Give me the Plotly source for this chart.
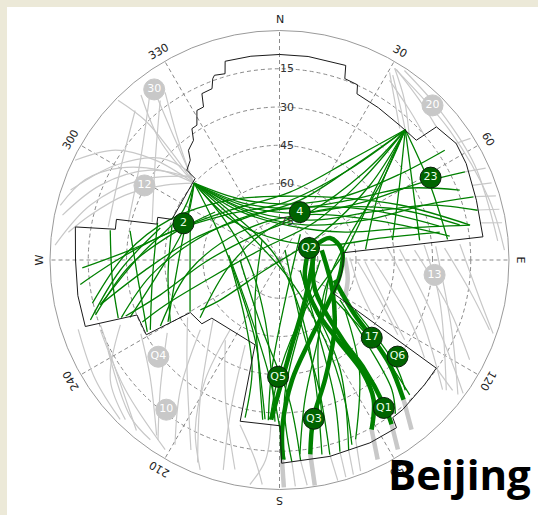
import math
import plotly.graph_objects as go

# ---------------- page / sky-plot geometry ----------------
W, H = 538, 515
CX, CY, R = 279.5, 260.0, 229.5      # centre and horizon radius (px)
R_LABEL = 241.0                       # radius of the azimuth labels (px)

# ---------------- elevation mask (azimuth deg, elevation deg) ----------------
mask_az = [344.7, 352, 0, 8, 18.8, 19.8, 24, 25, 33, 42, 48.8, 49.7, 56.6, 62.7, 73.1,
           83.5, 83.5, 93, 102, 112, 121.8, 124.6, 130.7, 140.5, 144.3, 145.1, 153.7,
           165.6, 179.4, 179.8, 193.7, 196.1, 229.3, 230.6, 239.5, 240.7, 248.9, 251.1,
           260, 270, 279.2, 280.6, 284, 286.3, 289.3, 290.7, 314, 314.1, 318.2, 320.3,
           324.3, 326.3, 328.5, 331.1, 333.6, 335, 338.5, 339.8, 340.6, 343.7, 344.7]
mask_el = [9.2, 9.3, 9.4, 9.4, 9.4, 14.4, 14.8, 18.1, 18.8, 19.2, 18.7, 9.3, 7.0, 7.6, 9.3,
           9.7, 64.9, 65.0, 65.1, 65.2, 65.2, 15.3, 15.0, 14.0, 13.9, 9.8, 10.0,
           10.5, 10.3, 25.0, 24.9, 55.4, 55.0, 50.6, 49.4, 30.1, 30.1, 9.5,
           9.7, 10.0, 8.9, 24.5, 24.1, 39.9, 39.4, 44.9, 44.0, 39.4, 37.5, 34.1,
           32.2, 28.1, 28.0, 23.0, 23.0, 18.0, 17.8, 14.2, 13.2, 13.9, 9.2]

# ---------------- visible tracks, (azimuth, elevation) ----------------
# passes leaving the north-west corner of the mask towards the east
nw_corner_passes = [
    [(312, 45), (327.4, 64.9), (23.6, 69.9), (54.7, 51.4), (61.3, 27.3), (64.6, 9.5)],
    [(312, 45), (328, 68.3), (36, 73), (65, 53), (69.3, 29.1), (72, 10)],
    [(312, 45), (327, 61.5), (10.6, 67.7), (45.7, 54.2), (54.5, 32.1), (56.4, 12.2)],
    [(312, 45), (320, 64.6), (17, 76), (67, 62), (75.7, 39.3), (79.6, 14.2)],
    [(312, 45), (310, 65.7), (1.4, 82.2), (73.5, 69.4), (77.7, 49.7), (80.1, 26.2)],
    [(312, 45), (327.4, 63.5), (16.6, 68.8), (49.6, 53.8), (60.2, 33.4), (68.8, 14.2)],
    [(312, 45), (327.8, 66.9), (37.3, 70.3), (62.1, 49.9), (69.9, 27.3), (75.9, 9.9)],
]
# passes leaving the north-west corner towards the south
nw_corner_south = [
    [(312, 45), (306, 63.5), (260, 78.3), (193.6, 65.9), (183.6, 43), (181.6, 26.6)],
    [(312, 45), (315, 65.2), (318, 87.4), (157.7, 68.9), (163.5, 41), (167.7, 11.9)],
    [(312, 45), (298.5, 61.3), (251.4, 71.6), (197, 57.3), (187.7, 38.7), (185.2, 27.3)],
    [(312, 45), (311, 72), (152.3, 81.2), (150.4, 54), (155, 29.5), (158.6, 12.2)],
    [(312, 45), (294, 47.3), (272, 35.4), (256, 17.6)],
    [(312, 45), (290, 50.6), (265, 43), (249, 27.2)],
]
# passes leaving the north-east corner of the mask towards the west and south
ne_corner_passes = [
    [(44, 19), (38.5, 42.5), (19, 65.2), (320.6, 68.7), (284.6, 55.8), (265.7, 37.2), (256, 17.6)],
    [(44, 19), (44, 42), (32.4, 67.7), (315.6, 76.3), (268.5, 60.9), (253.7, 41.3), (250, 25.8)],
    [(44, 19), (36.7, 47.1), (5.4, 67.3), (309.5, 62.3), (284.3, 45.8), (270.7, 27.6), (263, 11.3)],
    [(44, 19), (35.2, 42.1), (8.8, 63.1), (315.3, 62.5), (287.8, 49.1), (273.8, 31.3), (267.7, 12.6)],
    [(44, 19), (45.9, 45), (43, 69.6), (297.1, 81.4), (255.5, 61.9), (248.5, 41.9), (245.7, 31)],
    [(44, 19), (50.4, 44), (58.3, 71.4), (235.4, 83.1), (236, 61.9), (237.8, 53.3)],
    [(44, 19), (53.8, 43.7), (80.6, 63.3), (153, 68), (179.7, 46.9), (183.4, 27.3)],
    [(44, 19), (53.3, 40.9), (70.5, 60.7), (123.4, 68.7), (156.8, 51.7), (165, 25.2)],
    [(44, 19), (59, 29.4), (82, 34.5)],
    [(44, 19), (58, 34.5), (80, 45)],
    [(44, 19), (63.5, 24), (83, 23.6)],
    [(44, 19), (55, 42), (83, 56)],
]
# west-to-east passes over the top of the sky
west_east_passes = [
    [(257, 14.7), (272.6, 30), (290, 44), (319, 59), (0.5, 65), (44, 56), (65.5, 38), (79.6, 14)],
    [(250, 24), (263, 39), (283, 56), (327, 69), (30, 66), (61, 49.5), (78, 26)],
    [(241, 36.6), (263.6, 54.7), (305, 71), (24.5, 70.7), (66, 51), (82, 22.6)],
    [(234, 51.5), (264, 70.5), (343.5, 77), (39, 65), (65, 42), (79, 18)],
]
# short tracks inside the western sector
west_sector_tracks = [
    [(281, 30.3), (262, 34), (241.5, 31)],
    [(287, 40), (261, 39.5), (241.6, 32.4)],
    [(289.7, 52.8), (263.6, 54.7), (240, 49.5)],
    [(252.4, 12.2), (266.4, 27.5), (285, 41.6)],
    [(312, 45), (275.7, 51), (241, 40)],
    [(253.4, 14.7), (268.1, 31.5), (285, 47.7), (306.7, 58.5)],
    [(280, 22.6), (263.2, 24), (250.2, 22.8)],
    [(288, 45.7), (262.3, 45.9), (240.5, 40.8)],
]
# descending tracks in the southern sectors
south_tracks = [
    [(319, 79.6), (211.5, 71.6), (192, 50), (186, 27)],
    [(39, 77), (172, 74), (184, 47), (184, 27)],
    [(270, 74.5), (194, 62), (176, 35), (174, 11)],
    [(275.5, 70), (208, 65.6), (184.5, 43), (178.4, 11.7)],
    [(90, 74), (164, 61.5), (178, 35), (176.5, 10.8)],
    [(29, 85.5), (161, 65), (163, 36.7), (165.5, 11.2)],
    [(127, 58), (144, 36.7), (157, 13.6)],
    [(126, 63), (132, 37), (136, 16.5)],
    [(143, 70), (151, 41), (160, 10.7)],
    [(123.5, 54.6), (132, 29), (136, 19)],
    [(267.7, 70.6), (209.9, 62.9), (194, 45.6), (192.3, 26.7)],
    [(101, 69.8), (150, 58.3), (169.7, 34.3), (174, 13.4)],
    [(116, 81), (153, 55), (158.4, 31.1), (162.5, 11.2)],
    [(123.5, 61.6), (133.8, 42), (139.1, 22.7), (143, 14.5)],
]
# QZSS figure-of-eight tracks (drawn heavy)
qzss_tracks = [
    [(67, 74), (66.5, 68.4), (81, 65.2), (104, 65.6), (135, 64), (159, 56.5), (174, 42.7), (179, 24.7), (179, 11.7)],
    [(68, 77.5), (128, 77.3), (144, 64.4), (144, 51.5), (143.5, 35), (146, 24), (151.5, 14.3)],
    [(81.5, 76.7), (130, 71.8), (141.6, 50), (142, 37), (144.3, 19.2), (145.7, 12)],
    [(110, 67), (126, 53.5), (130, 42.7), (133.5, 30.4), (138.4, 16.7)],
    [(77, 73), (120, 66), (142, 55), (159, 40), (168, 26.3), (171, 12.8)],
    [(74, 75.6), (147.5, 71.4), (173, 54.5), (183, 27.3)],
]

# ---------------- masked tracks ----------------
masked_northwest = [
    [(312, 45), (307, 31.4), (300, 17.8), (292.4, 7.5), (284, 1.4)],
    [(312, 45), (308.8, 27.5), (303.8, 12.6), (296, 0.8)],
    [(312, 45), (303.2, 36.4), (292.8, 24.4), (283.4, 13.8), (277.5, 6.5)],
    [(312, 45), (315.1, 29.3), (316.1, 14.1), (314.7, 0.9)],
    [(281.7, 3.1), (292.7, 13.9), (304.8, 28.3), (313, 43)],
    [(288.5, 3.6), (300, 15.7), (310.5, 28.5), (314.5, 40.9)],
    [(273.8, 1.8), (286.2, 12.8), (299.8, 27), (313.2, 42)],
    [(323.7, 6.5), (319, 27.7), (312, 45)],
    [(320, 5.5), (315, 23.7), (312, 45)],
    [(325.7, 10.4), (319.8, 28.5), (312.4, 43.6)],
    [(322.7, 6.4), (305.6, 22.9), (284, 28.9)],
    [(323.2, 11.9), (308.8, 27.5), (286.6, 37.9)],
    [(316, 8.5), (299.4, 18.3), (281, 21.6)],
]
masked_northeast = [
    [(31, 2.3), (38, 10.4), (46, 19.3)],
    [(31, 2.3), (52.7, 6.1), (74, 4.4), (87.5, 1.7)],
    [(33.4, 1), (47, 4), (64, 4.9), (85, 4.1)],
    [(31.5, 5), (38, 13.2), (44, 19)],
    [(31.5, 7.4), (41, 12.2), (49, 15)],
    [(30.4, 4.7), (35.8, 12.8), (42.4, 20.1)],
    [(31.5, 2.3), (41.3, 6.7), (49.6, 9.3)],
    [(64.6, 9.5), (66, 1.5)],
    [(72, 9.5), (73.5, 1.5)],
    [(56.5, 7.2), (57.5, 1.2)],
    [(79.6, 9.5), (80.5, 1.5)],
    [(75.9, 9.5), (77, 1.5)],
    [(68.8, 9), (70, 1.5)],
]
masked_east = [
    [(83, 47.6), (110.7, 31.2), (128.5, 8.3)],
    [(84, 33), (104, 25.3), (128, 7)],
    [(85, 28.5), (112, 17.2), (127, 2.4)],
    [(85, 19), (101, 10), (109, 1.4)],
    [(91, 56.5), (111, 46), (122.5, 31.8)],
    [(88, 62.4), (110, 56.4), (122, 46)],
    [(85, 42.7), (108, 28), (122, 9), (126, 1)],
    [(91.2, 52.6), (114.7, 33.8), (124, 21.4)],
    [(85.8, 36.9), (106.3, 20.5), (117.7, 5.8)],
    [(85.9, 25.1), (99, 14.6), (108.4, 3.2)],
    [(91.5, 59.3), (111.7, 47.7), (122.3, 35.1)],
    [(124.6, 15.3), (127, 5)],
]
masked_southwest = [
    [(251, 6.5), (237, 3.9), (225, 1.6)],
    [(250, 15.3), (236, 12.6), (220, 2.7)],
    [(242, 28.4), (228, 21.7), (215, 6)],
    [(238, 47.5), (221, 34.7), (205, 7.8)],
    [(228, 55), (209.6, 27), (202, 4.3)],
    [(237, 37.5), (222.6, 20.9), (214, 4.8)],
    [(242, 13.9), (223.6, 5.2), (215.7, 3.2)],
    [(214, 52), (201, 31), (192, 6)],
    [(202, 54), (198, 28.2), (195, 4.8)],
    [(215.3, 56.4), (211.8, 34.7), (206.4, 15.7), (200.7, 2)],
    [(248.7, 14.6), (229.9, 11), (211.1, 3.2)],
    [(247.8, 22.6), (234.7, 8.7), (224, 3)],
    [(228.6, 48.6), (217.4, 26), (209.5, 6.8)],
    [(193.5, 23.6), (187, 11.2), (184.4, 1.7)],
    [(183, 25.4), (184, 11.3), (187.5, 1.2)],
    [(165.5, 11.2), (165.2, 0.5)],
    [(157, 13.6), (159, 1.3)],
    [(174, 11), (173, 1)],
    [(176.5, 10.8), (176, 1)],
    [(160, 10.7), (161, 1)],
    [(162.5, 11.2), (163, 1)],
]
masked_qzss = [
    [(179.3, 11.7), (178.9, 0.8)],
    [(171, 12.8), (171.1, 0.5)],
    [(151.5, 14.3), (153.8, 2.8)],
    [(145.7, 12), (148, 2.4)],
    [(138.4, 16.7), (142.1, 5.7)],
    [(88, 64.4), (105, 62.3), (120, 60.4)],
]

# ---------------- satellite positions ----------------
tracked_prn = ["2", "4", "23", "Q2", "17", "Q6", "Q5", "Q3", "Q1"]
tracked_az = [290.9, 23, 61.4, 67.9, 130.1, 129.3, 180.7, 167.8, 144.8]
tracked_el = [49.7, 69.6, 22.5, 77.5, 42.7, 30.2, 44.2, 26.3, 19.0]

blocked_prn = ["30", "20", "12", "13", "Q4", "10"]
blocked_az = [323.7, 44.7, 298.9, 95.5, 231.4, 217.1]
blocked_el = [7.0, 4.7, 29.5, 28.9, 29.2, 16.4]

# axis labels
azimuth_ticks = list(range(0, 360, 30))
azimuth_text = ["N", "30", "60", "E", "120", "150", "S", "210", "240", "W", "300", "330"]
elev_ticks = [15, 30, 45, 60, 75]

GREEN = "#008000"
GREY = "#c8c8c8"
FONT = "DejaVu Sans"

fig = go.Figure()


def add_tracks(tracks, color, width):
    for trk in tracks:
        fig.add_trace(go.Scatterpolar(
            theta=[p[0] for p in trk],
            r=[90 - p[1] for p in trk],
            mode="lines",
            line=dict(color=color, width=width, shape="spline", smoothing=1.0),
            hoverinfo="skip", showlegend=False))


for grp in (masked_northwest, masked_northeast, masked_east, masked_southwest):
    add_tracks(grp, GREY, 1.2)
add_tracks(masked_qzss, GREY, 4.5)
for grp in (nw_corner_passes, nw_corner_south, ne_corner_passes, west_east_passes,
            west_sector_tracks, south_tracks):
    add_tracks(grp, GREEN, 1.3)
add_tracks(qzss_tracks, GREEN, 4.5)

# mask outline
fig.add_trace(go.Scatterpolar(
    theta=mask_az, r=[90 - e for e in mask_el], mode="lines",
    line=dict(color="#1a1a1a", width=1), hoverinfo="skip", showlegend=False))

# satellites
fig.add_trace(go.Scatterpolar(
    theta=blocked_az, r=[90 - e for e in blocked_el], mode="markers+text",
    text=blocked_prn, textposition="middle center",
    textfont=dict(family=FONT, size=11, color="white"),
    marker=dict(size=21, color=GREY, line=dict(color=GREY, width=1)),
    hoverinfo="skip", showlegend=False))
fig.add_trace(go.Scatterpolar(
    theta=tracked_az, r=[90 - e for e in tracked_el], mode="markers+text",
    text=tracked_prn, textposition="middle center",
    textfont=dict(family=FONT, size=11, color="#eaffea"),
    marker=dict(size=21, color="#006400", line=dict(color="#0b1f0b", width=1)),
    hoverinfo="skip", showlegend=False))

annotations = []
for a, t in zip(azimuth_ticks, azimuth_text):
    xp = CX + R_LABEL * math.sin(math.radians(a))
    yp = CY - R_LABEL * math.cos(math.radians(a))
    annotations.append(dict(
        x=xp / W, y=1 - yp / H, xref="paper", yref="paper", text=t, showarrow=False,
        textangle=a if a <= 180 else a - 360,
        font=dict(family=FONT, size=11, color="#222"),
        xanchor="center", yanchor="middle"))
annotations.append(dict(
    x=386 / W, y=1 - 473 / H, xref="paper", yref="paper", text="<b>Beijing</b>",
    showarrow=False, xanchor="left", yanchor="middle",
    font=dict(family="Open Sans", size=42, color="black")))

fig.update_layout(
    width=W, height=H,
    margin=dict(l=0, r=0, t=0, b=0, pad=0),
    paper_bgcolor="#ECE9D8",
    showlegend=False,
    shapes=[dict(type="rect", xref="paper", yref="paper", x0=7 / W, x1=1.0,
                 y0=0.0, y1=1 - 7 / H, fillcolor="white", line=dict(width=0), layer="below")],
    annotations=annotations,
    polar=dict(
        domain=dict(x=[(CX - R) / W, (CX + R) / W], y=[1 - (CY + R) / H, 1 - (CY - R) / H]),
        bgcolor="rgba(0,0,0,0)",
        angularaxis=dict(
            rotation=90, direction="clockwise", tickmode="array", tickvals=azimuth_ticks,
            showticklabels=False, ticks="", showline=True, linecolor="#9a9a9a", linewidth=1,
            showgrid=True, gridcolor="#8a8a8a", gridwidth=1, griddash="4px,3px"),
        radialaxis=dict(
            range=[0, 90], tickmode="array", tickvals=[90 - e for e in elev_ticks],
            ticktext=[str(e) for e in elev_ticks], angle=90, tickangle=90,
            showline=False, ticks="", showgrid=True, gridcolor="#8a8a8a", gridwidth=1,
            griddash="4px,3px", tickfont=dict(family=FONT, size=11, color="#333")),
    ),
)

fig.write_html("out.html", include_plotlyjs=True, config={"displayModeBar": False, "staticPlot": True})
